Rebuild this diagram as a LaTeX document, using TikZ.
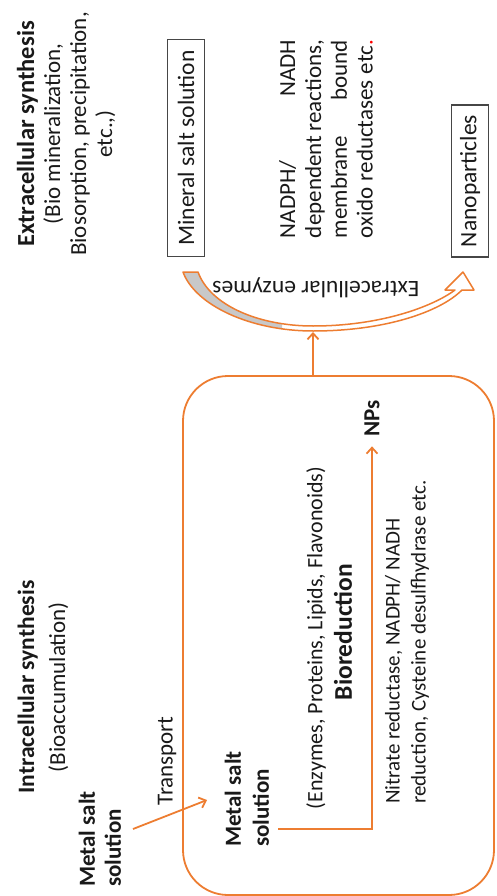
\documentclass[tikz,border=0pt]{standalone}
\usepackage{fontspec}
\setmainfont{Carlito}
\usetikzlibrary{arrows.meta}
\definecolor{orng}{RGB}{237,125,49}
\definecolor{txt}{RGB}{25,25,25}
\definecolor{greyfill}{RGB}{200,200,200}
\definecolor{boxline}{RGB}{70,70,70}
\begin{document}
\begin{tikzpicture}[x=1pt,y=-1pt,
  lbl/.style={rotate=90, inner sep=0pt, text=txt, font=\fontsize{23}{26}\selectfont},
  bold/.style={lbl, font=\fontsize{#1}{26}\selectfont\bfseries},
  framed/.style={lbl, draw=boxline, line width=1.1pt, minimum height=37pt,
    font=\fontsize{23.5}{26}\selectfont},
  conn/.style={draw=orng, line width=1.8pt, -{Straight Barb[length=6pt,width=11pt]}},
]
\useasboundingbox (0,0) rectangle (496,896);
\newcommand\bandshape{(183,272) .. controls (195,305) and (250,331) .. (313,331)
  .. controls (385,331) and (440,312) .. (462,290) -- (474,290) -- (463,272)
  -- (445,290) -- (455,290) .. controls (432,307) and (380,326) .. (313,326)
  .. controls (258,326) and (210,305) .. (198,272) -- cycle}

% Extracellular block
\node[lbl, align=center] (extitle) at (66,134)
  {{\fontsize{24.5}{26}\selectfont\bfseries Extracellular synthesis}\\(Bio mineralization,\\Biosorption, precipitation,\\etc.,)};
\node[framed, minimum width=217pt] (mineral) at (186,148) {Mineral salt solution};
\node[lbl, align=left, font=\fontsize{23}{25.8}\selectfont] (nadph) at (326,139)
  {\makebox[198pt][s]{NADPH/ NADH}\\\makebox[198pt][s]{dependent reactions,}\\
   \makebox[198pt][s]{membrane bound}\\\makebox[198pt][s]{oxido reductases etc\textcolor{red}{.}}};
\node[framed, minimum width=152pt] (nano) at (470,181) {Nanoparticles};

% curved arrow
\fill[white] \bandshape;
\begin{scope}
  \clip (150,250) rectangle (282,340);
  \fill[greyfill] \bandshape;
\end{scope}
\draw[orng, line width=1.5pt, line join=round] \bandshape;
\node[lbl, rotate=90, font=\fontsize{23.5}{26}\selectfont] (enz) at (316,288) {Extracellular enzymes};

% cell
\node[draw=orng, line width=1.8pt, rounded corners=45pt, minimum width=311pt,
  minimum height=519pt, inner sep=0pt] (cell) at (338.5,635.5) {};
\coordinate (celltop) at (313,376);
\coordinate (bandbot) at (313,332);
\draw[conn] (celltop) -- (bandbot);

% Intracellular
\node[lbl, align=center] (intitle) at (43,687)
  {{\fontsize{23.5}{26}\selectfont\bfseries Intracellular synthesis}\\[5pt](Bioaccumulation)};
\node[bold=23, align=left, anchor=west] (msout) at (100,887)
  {Metal salt\\solution};
\coordinate (trs) at (133,829);
\coordinate (tre) at (207,800);
\draw[conn] (trs) -- (tre);
\node[lbl] (transport) at (167,761) {Transport};
\node[bold=23, align=left, anchor=west, font=\fontsize{23}{28}\selectfont\bfseries] (msin) at (247,847)
  {Metal salt\\solution};
\node[lbl, font=\fontsize{22}{26}\selectfont] (enzlist) at (316,638) {(Enzymes, Proteins, Lipids, Flavonoids)};
\node[bold=25.5] (biored) at (343,632) {Bioreduction};
\node[lbl, align=left, anchor=west, font=\fontsize{21}{26}\selectfont] (nitrate) at (407,804)
  {Nitrate reductase, NADPH/ NADH\\reduction, Cysteine desulfhydrase etc.};
\node[bold=23] (nps) at (372,418) {NPs};
\coordinate (elb) at (278,829);
\draw[conn, shorten >=10pt] (elb) -| (nps.west);
\end{tikzpicture}
\end{document}
